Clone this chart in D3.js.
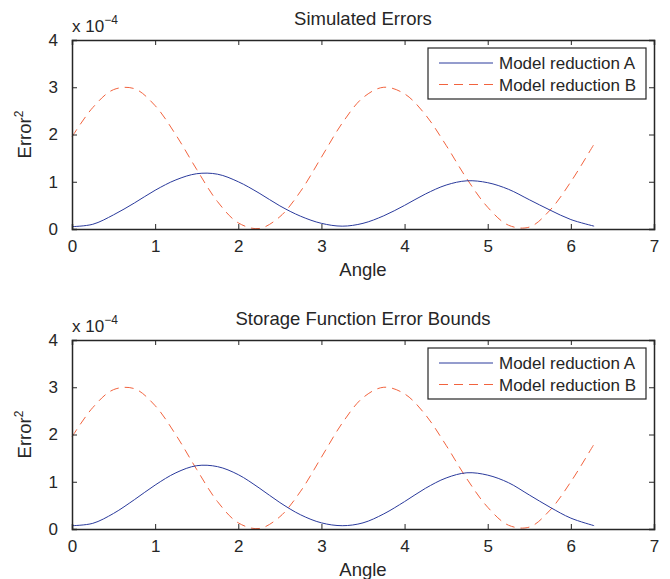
<!DOCTYPE html>
<html>
<head>
<meta charset="utf-8">
<script src="https://cdn.jsdelivr.net/npm/d3@7"></script>
<style>
  body { margin: 0; background: #fff; }
  svg { display: block; font-family: "Liberation Sans", Arial, sans-serif; }
</style>
</head>
<body>
<svg id="chart" width="670" height="579"></svg>
<script>
const angles = [0, 0.25, 0.5, 0.75, 1.0, 1.25, 1.5, 1.75, 2.0, 2.25, 2.5, 2.75, 3.0,
  3.25, 3.5, 3.75, 4.0, 4.25, 4.5, 4.75, 5.0, 5.25, 5.5, 5.75, 6.0, 6.28];

// values in units of 1e-4
const simA = [0.05, 0.1, 0.3, 0.55, 0.82, 1.04, 1.17, 1.16, 1.0, 0.76, 0.49, 0.27, 0.12,
  0.06, 0.12, 0.28, 0.5, 0.74, 0.93, 1.02, 0.98, 0.84, 0.62, 0.4, 0.2, 0.06];
const simB = [1.95, 2.57, 2.95, 2.97, 2.61, 1.99, 1.26, 0.58, 0.13, 0.01, 0.26, 0.8, 1.52,
  2.24, 2.78, 3.0, 2.86, 2.42, 1.77, 1.06, 0.46, 0.08, 0.04, 0.4, 1.0, 1.8];
const boundA = [0.07, 0.12, 0.33, 0.62, 0.93, 1.19, 1.34, 1.32, 1.15, 0.87, 0.56, 0.3, 0.13,
  0.07, 0.13, 0.32, 0.58, 0.86, 1.08, 1.19, 1.14, 0.98, 0.72, 0.46, 0.23, 0.07];
const boundB = simB;

const titles = ["Simulated Errors", "Storage Function Error Bounds"];
const legendLabels = ["Model reduction A", "Model reduction B"];
const xTicks = [0, 1, 2, 3, 4, 5, 6, 7];
const yTicks = [0, 1, 2, 3, 4];

const colorA = "#2a3a9c";
const colorB = "#f2633e";
const axisColor = "#262626";

const svg = d3.select("#chart");

const panels = [
  { title: titles[0], a: simA, b: simB, top: 40 },
  { title: titles[1], a: boundA, b: boundB, top: 340 }
];

const left = 72, right = 654, plotH = 189;

const x = d3.scaleLinear().domain([0, 7]).range([left, right]);

panels.forEach(p => {
  const y = d3.scaleLinear().domain([0, 4]).range([p.top + plotH, p.top]);
  const g = svg.append("g");

  const line = d3.line()
    .x((d, i) => x(angles[i]))
    .y(d => y(d))
    .curve(d3.curveCatmullRom);

  g.append("path")
    .datum(p.b)
    .attr("d", line)
    .attr("fill", "none")
    .attr("stroke", colorB)
    .attr("stroke-width", 1)
    .attr("stroke-dasharray", "9,6");

  g.append("path")
    .datum(p.a)
    .attr("d", line)
    .attr("fill", "none")
    .attr("stroke", colorA)
    .attr("stroke-width", 1);

  // axes, MATLAB style: inward ticks on all four sides
  const bottom = g.append("g")
    .attr("transform", `translate(0,${p.top + plotH})`)
    .call(d3.axisBottom(x).tickValues(xTicks).tickSize(-5).tickPadding(11).tickFormat(d3.format("d")));
  const leftAx = g.append("g")
    .attr("transform", `translate(${left},0)`)
    .call(d3.axisLeft(y).tickValues(yTicks).tickSize(-5).tickPadding(14).tickFormat(d3.format("d")));
  const topAx = g.append("g")
    .attr("transform", `translate(0,${p.top})`)
    .call(d3.axisTop(x).tickValues(xTicks).tickSize(-5).tickFormat(""));
  const rightAx = g.append("g")
    .attr("transform", `translate(${right},0)`)
    .call(d3.axisRight(y).tickValues(yTicks).tickSize(-5).tickFormat(""));

  [bottom, leftAx, topAx, rightAx].forEach(ax => {
    ax.attr("font-size", null).attr("font-family", null);
    ax.select(".domain").attr("stroke", axisColor).attr("stroke-width", 1.5);
    ax.selectAll(".tick line").attr("stroke", axisColor);
    ax.selectAll(".tick text").style("font-size", "17px").attr("fill", axisColor);
  });

  g.append("text")
    .attr("x", (left + right) / 2)
    .attr("y", p.top - 15)
    .attr("text-anchor", "middle")
    .style("font-size", "18.5px")
    .attr("fill", axisColor)
    .text(p.title);

  g.append("text")
    .attr("x", (left + right) / 2)
    .attr("y", p.top + plotH + 47)
    .attr("text-anchor", "middle")
    .style("font-size", "18.5px")
    .attr("fill", axisColor)
    .text("Angle");

  const ylab = g.append("text")
    .attr("transform", `translate(31,${p.top + plotH / 2}) rotate(-90)`)
    .attr("text-anchor", "middle")
    .style("font-size", "18.5px")
    .attr("fill", axisColor);
  ylab.append("tspan").text("Error");
  ylab.append("tspan").attr("dy", -8).style("font-size", "12px").text("2");

  const exp = g.append("text")
    .attr("x", left)
    .attr("y", p.top - 8)
    .style("font-size", "17px")
    .attr("fill", axisColor);
  exp.append("tspan").text("x 10");
  exp.append("tspan").attr("dy", -8).style("font-size", "12px").text("\u22124");

  // legend
  const lg = g.append("g").attr("transform", `translate(428,${p.top + 8})`);
  lg.append("rect")
    .attr("width", 218).attr("height", 51)
    .attr("fill", "#fff").attr("stroke", axisColor).attr("stroke-width", 1.2);
  [colorA, colorB].forEach((c, i) => {
    const ly = 15 + i * 21.5;
    lg.append("line")
      .attr("x1", 11).attr("x2", 65).attr("y1", ly).attr("y2", ly)
      .attr("stroke", c).attr("stroke-width", 1)
      .attr("stroke-dasharray", i === 1 ? "9,6" : null);
    lg.append("text")
      .attr("x", 71).attr("y", ly + 6)
      .style("font-size", "17px")
      .attr("fill", axisColor)
      .text(legendLabels[i]);
  });
});
</script>
</body>
</html>
